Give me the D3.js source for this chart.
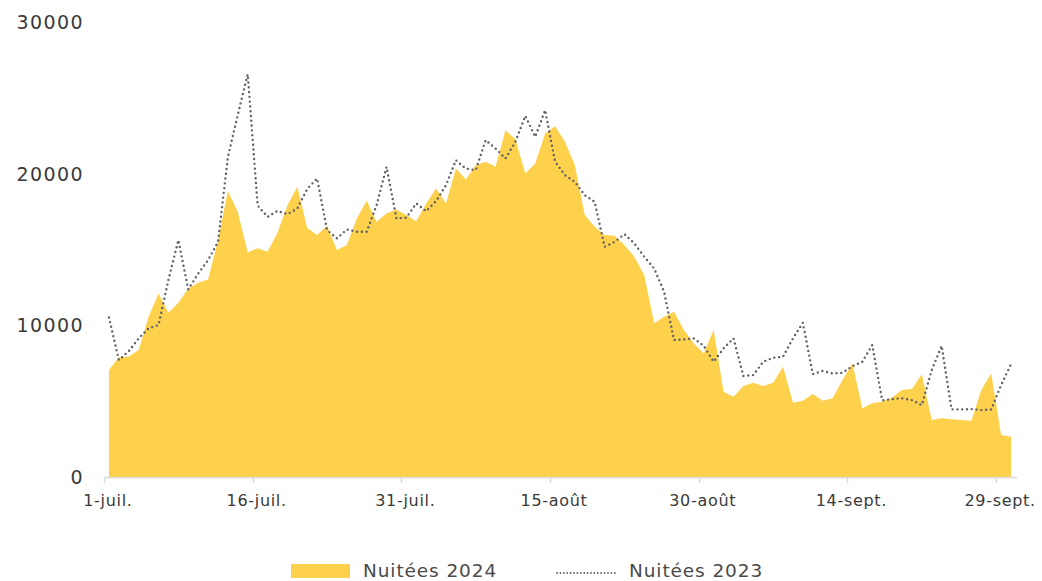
<!DOCTYPE html>
<html>
<head>
<meta charset="utf-8">
<script src="https://cdn.jsdelivr.net/npm/d3@7"></script>
<style>
  html, body { margin: 0; padding: 0; background: #ffffff; }
  svg { display: block; }
  text { font-family: "DejaVu Sans", sans-serif; }
</style>
</head>
<body>
<svg id="chart" width="1042" height="581"></svg>
<script>
// ---- data ----
const startDate = new Date(2024, 6, 1);
const days = d3.range(92).map(i => d3.timeDay.offset(startDate, i));

const nuitees2024 = [
  7050, 7900, 7950, 8370, 10560, 12100, 10830, 11490, 12430, 12800,
  13030, 15600, 18850, 17480, 14800, 15090, 14850, 16100, 17900, 19130,
  16420, 15950, 16570, 14960, 15290, 17050, 18210, 16830, 17380, 17640,
  17270, 16870, 18040, 19020, 18040, 20340, 19620, 20560, 20780, 20450,
  22870, 22270, 20010, 20670, 22650, 23120, 22100, 20560, 17270, 16500,
  15950, 15900, 15290, 14520, 13310, 10130, 10560, 10890, 9690, 8810,
  8150, 9690, 5620, 5290, 6000, 6210, 6000, 6210, 7270, 4900,
  5030, 5470, 5030, 5190, 6390, 7490, 4530, 4860, 4960, 5250,
  5730, 5800, 6770, 3760, 3870, 3800, 3760, 3710, 5730, 6830,
  2770, 2660
];

const nuitees2023 = [
  10520, 7710, 8300, 9140, 9800, 10020, 13000, 15620, 12370, 13420,
  14300, 15500, 21100, 23900, 26560, 17900, 17150, 17550, 17330, 17700,
  19000, 19680, 16280, 15730, 16320, 16170, 16170, 17920, 20450, 17050,
  17100, 18040, 17530, 18190, 19240, 20890, 20340, 20230, 22210, 21660,
  21000, 22100, 23810, 22430, 24190, 20800, 19900, 19460, 18580, 18140,
  15180, 15500, 16010, 15400, 14520, 13750, 12210, 9030, 9070, 9140,
  8650, 7600, 8480, 9140, 6660, 6720, 7600, 7860, 7930, 9140,
  10170, 6790, 6990, 6830, 6870, 7310, 7600, 8700, 5050, 5140,
  5190, 5070, 4740, 7050, 8650, 4460, 4460, 4480, 4410, 4460,
  6060, 7450
];

const tickIndices = [0, 15, 30, 45, 60, 75, 90];
const tickLabels = ["1-juil.", "16-juil.", "31-juil.", "15-août", "30-août", "14-sept.", "29-sept."];
const yTicks = [0, 10000, 20000, 30000];
const seriesNames = ["Nuitées 2024", "Nuitées 2023"];

// ---- layout ----
const svg = d3.select("#chart");
const mLeft = 104, mRight = 1016, mTop = 22, mBottom = 477;
const areaColor = "#FDD14C";
const lineColor = "#5f5f68";

const x = d3.scaleBand().domain(d3.range(days.length)).range([mLeft, mRight]).paddingInner(0).paddingOuter(0);
const bw = x.bandwidth();
const cx = i => x(i) + bw / 2;
const y = d3.scaleLinear().domain([0, 30000]).range([mBottom, mTop]);

// area 2024
const area = d3.area()
  .x((d, i) => cx(i))
  .y0(y(0))
  .y1(d => y(d));
svg.append("path")
  .datum(nuitees2024)
  .attr("d", area)
  .attr("fill", areaColor);

// line 2023
const line = d3.line()
  .x((d, i) => cx(i))
  .y(d => y(d));
svg.append("path")
  .datum(nuitees2023)
  .attr("d", line)
  .attr("fill", "none")
  .attr("stroke", lineColor)
  .attr("stroke-width", 2.4)
  .attr("stroke-linecap", "round")
  .attr("stroke-dasharray", "0 4.8");

// x axis
const xAxisG = svg.append("g").attr("transform", `translate(0,${mBottom})`);
xAxisG.append("line")
  .attr("x1", mLeft).attr("x2", mRight + 1)
  .attr("y1", 0.5).attr("y2", 0.5)
  .attr("stroke", "#d9d9d9").attr("stroke-width", 1.5);
xAxisG.selectAll("line.tick")
  .data(tickIndices)
  .enter().append("line")
  .attr("class", "tick")
  .attr("x1", d => Math.round(x(d)) + 0.5)
  .attr("x2", d => Math.round(x(d)) + 0.5)
  .attr("y1", 0).attr("y2", 6)
  .attr("stroke", "#d9d9d9").attr("stroke-width", 1.5);
xAxisG.selectAll("text")
  .data(tickIndices)
  .enter().append("text")
  .attr("x", d => cx(d) - 1)
  .attr("y", 29)
  .attr("text-anchor", "middle")
  .attr("font-size", 16)
  .attr("letter-spacing", "0.7")
  .attr("fill", "#3a3a3a")
  .text((d, i) => tickLabels[i]);

// y axis labels
svg.selectAll("text.ylab")
  .data(yTicks)
  .enter().append("text")
  .attr("class", "ylab")
  .attr("x", 84)
  .attr("y", d => y(d) + 7)
  .attr("text-anchor", "end")
  .attr("font-size", 19)
  .attr("letter-spacing", "1.4")
  .attr("fill", "#3a3a3a")
  .text(d => d);

// legend
const lg = svg.append("g");
lg.append("rect")
  .attr("x", 291).attr("y", 564).attr("width", 59).attr("height", 14)
  .attr("fill", areaColor);
lg.append("text")
  .attr("x", 363).attr("y", 577)
  .attr("font-size", 18.5).attr("letter-spacing", "0.9").attr("fill", "#4a4a4a")
  .text(seriesNames[0]);
lg.append("line")
  .attr("x1", 557).attr("x2", 617).attr("y1", 573).attr("y2", 573)
  .attr("stroke", lineColor).attr("stroke-width", 1.8)
  .attr("stroke-linecap", "round").attr("stroke-dasharray", "0 3.4");
lg.append("text")
  .attr("x", 629).attr("y", 577)
  .attr("font-size", 18.5).attr("letter-spacing", "0.9").attr("fill", "#4a4a4a")
  .text(seriesNames[1]);
</script>
</body>
</html>
